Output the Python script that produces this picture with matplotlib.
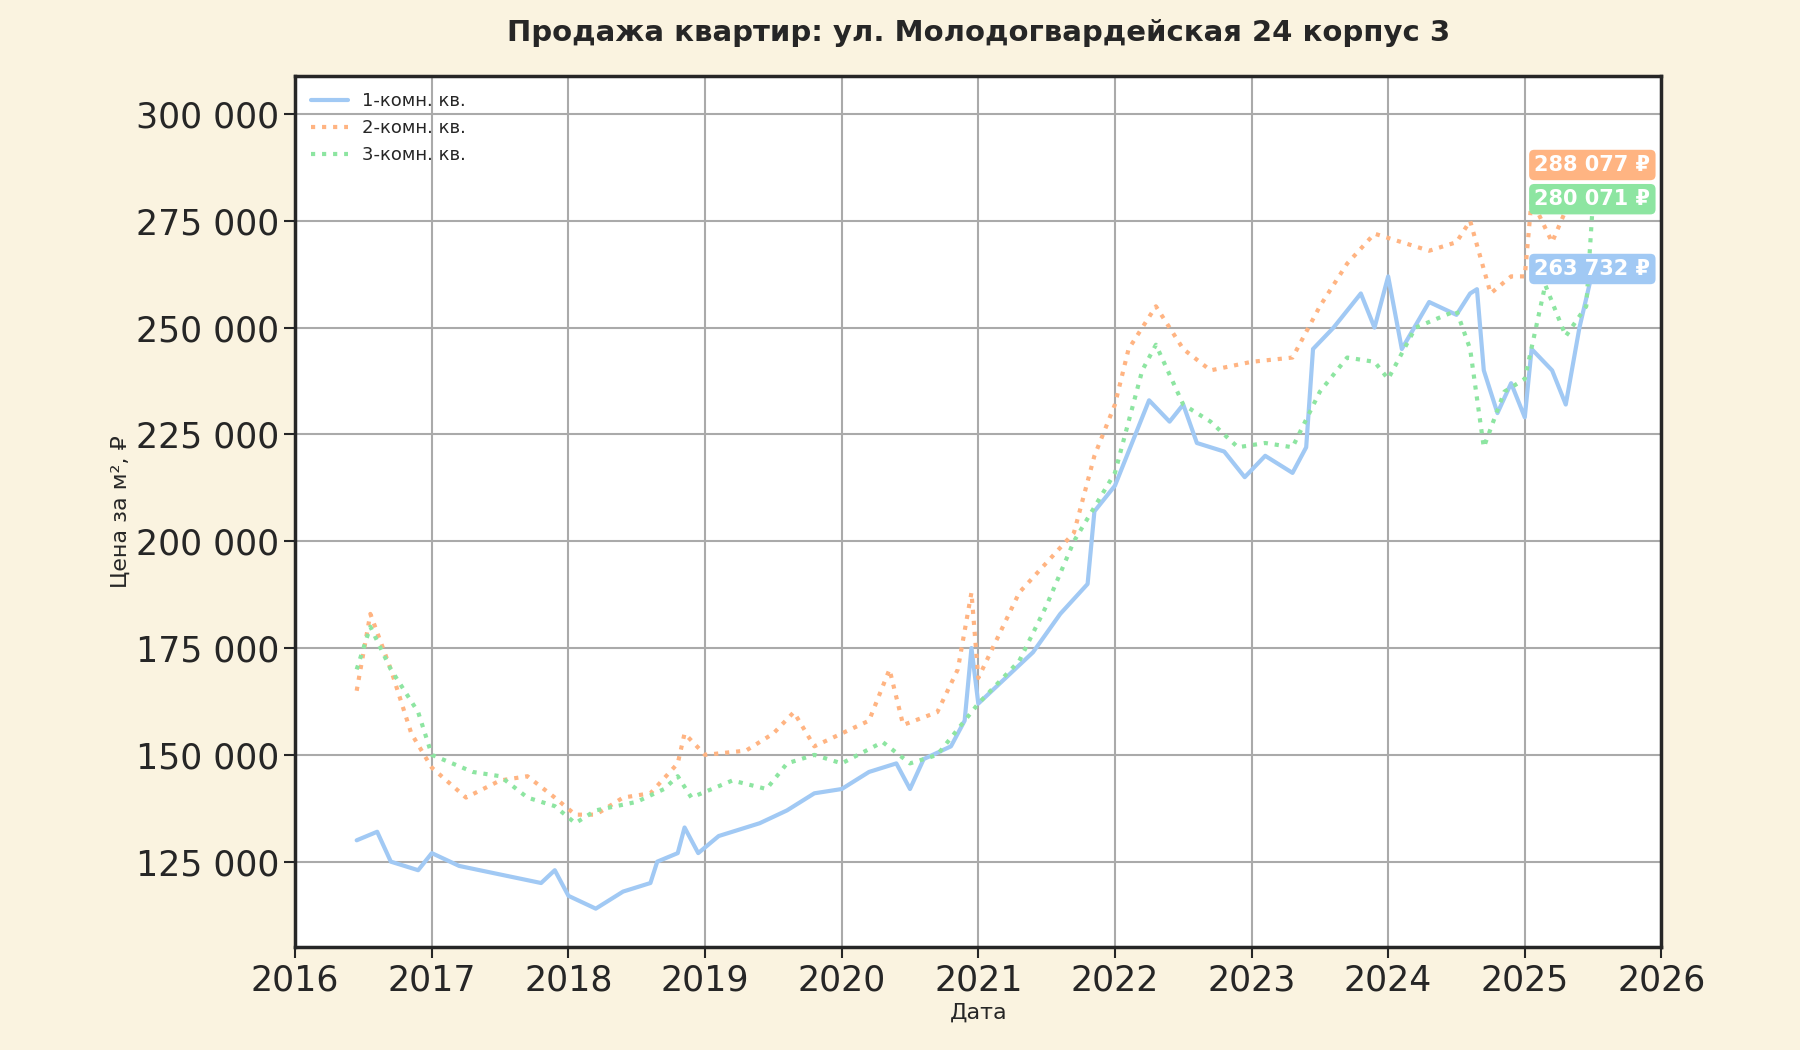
import numpy as np
import matplotlib.pyplot as plt
import seaborn as sns
from matplotlib.ticker import FuncFormatter

sns.set_theme(context='talk', style='ticks', palette='pastel')
plt.rcParams['font.family'] = ['DejaVu Sans']

# Values (decimal year, price per m2)
t1 = [2016.45, 2016.6, 2016.7, 2016.9, 2017.0, 2017.2, 2017.5, 2017.8, 2017.9, 2018.0, 2018.2, 2018.4,
      2018.6, 2018.65, 2018.8, 2018.85, 2018.95, 2019.1, 2019.4, 2019.6, 2019.8, 2020.0, 2020.2, 2020.4,
      2020.5, 2020.6, 2020.8, 2020.9, 2020.95, 2021.0, 2021.2, 2021.4, 2021.6, 2021.8, 2021.85, 2022.0,
      2022.15, 2022.25, 2022.4, 2022.5, 2022.6, 2022.8, 2022.95, 2023.1, 2023.3, 2023.4, 2023.45, 2023.6,
      2023.8, 2023.9, 2024.0, 2024.1, 2024.3, 2024.5, 2024.6, 2024.65, 2024.7, 2024.8, 2024.9, 2025.0,
      2025.05, 2025.2, 2025.3, 2025.4, 2025.5]
v1 = [130, 132, 125, 123, 127, 124, 122, 120, 123, 117, 114, 118,
      120, 125, 127, 133, 127, 131, 134, 137, 141, 142, 146, 148,
      142, 149, 152, 158, 175, 162, 168, 174, 183, 190, 207, 213,
      225, 233, 228, 232, 223, 221, 215, 220, 216, 222, 245, 250,
      258, 250, 262, 245, 256, 253, 258, 259, 240, 230, 237, 229,
      245, 240, 232, 250, 263.732]

t2 = [2016.45, 2016.55, 2016.7, 2016.85, 2017.0, 2017.25, 2017.5, 2017.7, 2017.9, 2018.05, 2018.2, 2018.4,
      2018.6, 2018.8, 2018.85, 2019.0, 2019.3, 2019.5, 2019.65, 2019.8, 2020.0, 2020.2, 2020.35, 2020.45,
      2020.7, 2020.85, 2020.95, 2021.0, 2021.3, 2021.5, 2021.7, 2021.85, 2022.0, 2022.1, 2022.3, 2022.5,
      2022.7, 2023.0, 2023.3, 2023.5, 2023.7, 2023.9, 2024.1, 2024.3, 2024.5, 2024.6, 2024.75, 2024.9,
      2025.0, 2025.05, 2025.2, 2025.4, 2025.5]
v2 = [165, 183, 170, 155, 147, 140, 144, 145, 140, 136, 136, 140,
      141, 148, 155, 150, 151, 155, 160, 152, 155, 158, 170, 157,
      160, 170, 188, 168, 188, 195, 202, 220, 232, 245, 255, 245,
      240, 242, 243, 255, 265, 272, 270, 268, 270, 275, 258, 262,
      262, 280, 270, 285, 288.077]

t3 = [2016.45, 2016.55, 2016.7, 2016.9, 2017.0, 2017.3, 2017.5, 2017.7, 2017.9, 2018.05, 2018.2, 2018.5,
      2018.7, 2018.8, 2018.9, 2019.2, 2019.45, 2019.6, 2019.8, 2020.0, 2020.3, 2020.5, 2020.7, 2020.9,
      2021.0, 2021.3, 2021.5, 2021.7, 2021.85, 2022.0, 2022.2, 2022.3, 2022.5, 2022.7, 2022.9, 2023.1,
      2023.3, 2023.5, 2023.7, 2023.9, 2024.0, 2024.2, 2024.5, 2024.6, 2024.7, 2024.85, 2025.0, 2025.15,
      2025.3, 2025.45, 2025.5]
v3 = [170, 180, 170, 160, 150, 146, 145, 140, 138, 134, 137, 139,
      142, 145, 140, 144, 142, 148, 150, 148, 153, 148, 150, 158,
      162, 172, 185, 200, 208, 216, 240, 246, 232, 228, 222, 223,
      222, 235, 243, 242, 238, 250, 254, 245, 222, 235, 238, 260,
      248, 255, 280.071]

series = [('1-комн. кв.', t1, v1, '-'), ('2-комн. кв.', t2, v2, ':'), ('3-комн. кв.', t3, v3, ':')]
colors = sns.color_palette('pastel')

fig = plt.figure(figsize=(18, 10.5), dpi=100, facecolor='#FAF3E0')
ax = fig.add_axes([0.164, 0.098, 0.759, 0.83])
ax.set_facecolor('white')

for i, (name, t, v, ls) in enumerate(series):
    ax.plot(t, np.array(v) * 1000, ls, color=colors[i], lw=3, label=name)

label_y = [263732, 288077, 280071]
for i, y in enumerate(label_y):
    ax.text(2025.07, y, f'{y:,} ₽'.replace(',', ' '), color='white', fontsize=15, fontweight='bold',
            va='center', ha='left',
            bbox=dict(boxstyle='round,pad=0.25', fc=colors[i], ec='none'))

ax.set_xlim(2016, 2026)
ax.set_ylim(105000, 309000)
ax.set_xticks(range(2016, 2027))
ax.set_yticks(range(125000, 300001, 25000))
ax.yaxis.set_major_formatter(FuncFormatter(lambda x, p: f'{int(x):,}'.replace(',', ' ')))
ax.tick_params(labelsize=25, length=8, width=1.5)
ax.grid(True, color='#aaaaaa', lw=1.5)
for s in ax.spines.values():
    s.set_linewidth(2.5)
ax.set_xlabel('Дата', fontsize=16)
ax.set_ylabel('Цена за м², ₽', fontsize=16)
ax.set_title('Продажа квартир: ул. Молодогвардейская 24 корпус 3', fontsize=21, fontweight='bold', pad=25)
ax.legend(loc='upper left', fontsize=13, frameon=False)

fig.savefig('out.png', dpi=100, facecolor=fig.get_facecolor())
